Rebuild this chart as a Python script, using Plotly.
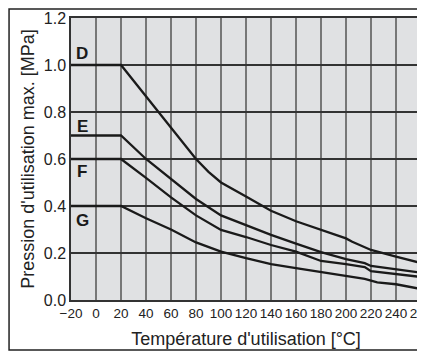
import plotly.graph_objects as go

# temperature (°C) / max pressure (MPa) per curve
temp_d = [-20, 20, 50, 80, 90, 100, 120, 140, 160, 180, 200, 205, 220, 240, 260]
pres_d = [1.0, 1.0, 0.8, 0.6, 0.545, 0.5, 0.44, 0.38, 0.335, 0.3, 0.262, 0.248, 0.213, 0.185, 0.157]

temp_e = [-20, 20, 40, 60, 80, 100, 120, 140, 160, 180, 200, 215, 220, 240, 260]
pres_e = [0.7, 0.7, 0.6, 0.515, 0.43, 0.36, 0.319, 0.277, 0.24, 0.204, 0.174, 0.157, 0.145, 0.132, 0.116]

temp_f = [-20, 20, 40, 60, 80, 100, 120, 140, 160, 180, 200, 215, 220, 240, 260]
pres_f = [0.6, 0.6, 0.52, 0.437, 0.36, 0.298, 0.268, 0.234, 0.206, 0.166, 0.153, 0.14, 0.123, 0.111, 0.098]

temp_g = [-20, 20, 40, 60, 80, 100, 120, 140, 160, 180, 200, 215, 225, 240, 260]
pres_g = [0.4, 0.4, 0.348, 0.3, 0.245, 0.206, 0.178, 0.153, 0.136, 0.12, 0.102, 0.09, 0.075, 0.067, 0.047]

curve_names = ['D', 'E', 'F', 'G']
label_y = [1.05, 0.74, 0.545, 0.34]

x_ticks = list(range(-20, 261, 20))
y_ticks = [0.0, 0.2, 0.4, 0.6, 0.8, 1.0, 1.2]

regular = 'Liberation Sans, Arial, sans-serif'

fig = go.Figure()
for t, p, name in zip([temp_d, temp_e, temp_f, temp_g],
                      [pres_d, pres_e, pres_f, pres_g], curve_names):
    fig.add_trace(go.Scatter(x=t, y=p, mode='lines', name=name,
                             line=dict(color='#1a1a1a', width=2.3)))

annotations = []
for name, y in zip(curve_names, label_y):
    annotations.append(dict(x=-11, y=y, xref='x', yref='y', text='<b>%s</b>' % name,
                            showarrow=False, font=dict(family=regular, size=17, color='#1a1a1a')))

# page body has an 8px margin, so margins are offset to land the plot where the reference has it
fig.update_layout(
    width=425, height=352,
    margin=dict(l=63, r=12, t=10, b=60),
    paper_bgcolor='white',
    plot_bgcolor='#e0e1e3',
    showlegend=False,
    annotations=annotations,
    shapes=[dict(type='rect', xref='paper', yref='paper',
                 x0=-0.177, x1=1.1, y0=-0.177, y1=1.032,
                 line=dict(color='#222', width=1.5), layer='below')],
    xaxis=dict(range=[-20, 260], tickvals=x_ticks, showgrid=True, automargin=False,
               gridcolor='#777', gridwidth=2, zeroline=False,
               showline=True, linecolor='#333', linewidth=1.5, mirror=True,
               ticks='', tickangle=0,
               tickfont=dict(family=regular, size=13.5, color='#222'),
               title=dict(text="Température d'utilisation [°C]", standoff=12,
                          font=dict(family=regular, size=18, color='#222'))),
    yaxis=dict(range=[0, 1.2], tickvals=y_ticks, tickformat='.1f', showgrid=True,
               automargin=False,
               gridcolor='#333', gridwidth=1.5, zeroline=False,
               showline=True, linecolor='#333', linewidth=1.5, mirror=True,
               ticks='', tickfont=dict(family=regular, size=16, color='#222'),
               title=dict(text="Pression d'utilisation max. [MPa]", standoff=4,
                          font=dict(family=regular, size=18, color='#222'))),
)

fig.write_html('out.html')
